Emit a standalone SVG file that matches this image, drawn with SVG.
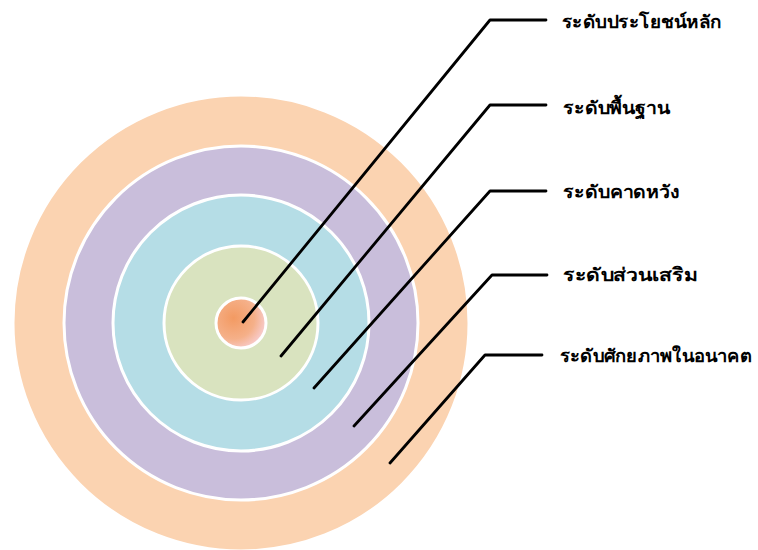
<svg xmlns="http://www.w3.org/2000/svg" width="758" height="550" viewBox="0 0 758 550">
  <defs>
    <radialGradient id="coreGrad" cx="0.35" cy="0.4" r="0.7">
      <stop offset="0" stop-color="#F39A62"/>
      <stop offset="0.6" stop-color="#F5B089"/>
      <stop offset="1" stop-color="#F8D0D8"/>
    </radialGradient>
    <style>
      .ring { stroke: #FFFFFF; stroke-width: 3; }
      .lead { fill: none; stroke: #000000; stroke-width: 2.8; stroke-linejoin: round; stroke-linecap: round; }
      .lbl { font-family: "Liberation Serif", "Noto Sans", serif; font-weight: bold; font-size: 18px; fill: #000000; }
    </style>
  </defs>
  <rect x="0" y="0" width="758" height="550" fill="#FFFFFF"/>
  <g id="level-potential"><circle class="ring" cx="241" cy="323" r="228" fill="#FBD3B1"/></g>
  <g id="level-augmented"><circle class="ring" cx="241" cy="323" r="177" fill="#C9BEDB"/></g>
  <g id="level-expected"><circle class="ring" cx="241" cy="323" r="128" fill="#B5DDE6"/></g>
  <g id="level-basic"><circle class="ring" cx="241" cy="323" r="77" fill="#D9E3BF"/></g>
  <g id="level-core"><circle class="ring" cx="241" cy="323" r="25" fill="url(#coreGrad)"/></g>
  <g id="connectors">
    <polyline class="lead" points="243,322 490,20 546,20"/>
    <polyline class="lead" points="281,356 490,105 546,105"/>
    <polyline class="lead" points="314,388 490,191 546,191"/>
    <polyline class="lead" points="354,426 492,275 547,275"/>
    <polyline class="lead" points="390,463 485,355 542,355"/>
  </g>
  <g id="labels">
    <text class="lbl" x="562" y="28" textLength="160" lengthAdjust="spacingAndGlyphs">ระดับประโยชน์หลัก</text>
    <text class="lbl" x="563" y="114" textLength="107" lengthAdjust="spacingAndGlyphs">ระดับพื้นฐาน</text>
    <text class="lbl" x="563" y="198" textLength="117" lengthAdjust="spacingAndGlyphs">ระดับคาดหวัง</text>
    <text class="lbl" x="563" y="281" textLength="135" lengthAdjust="spacingAndGlyphs">ระดับส่วนเสริม</text>
    <text class="lbl" x="560" y="362" textLength="192" lengthAdjust="spacingAndGlyphs">ระดับศักยภาพในอนาคต</text>
  </g>
</svg>
